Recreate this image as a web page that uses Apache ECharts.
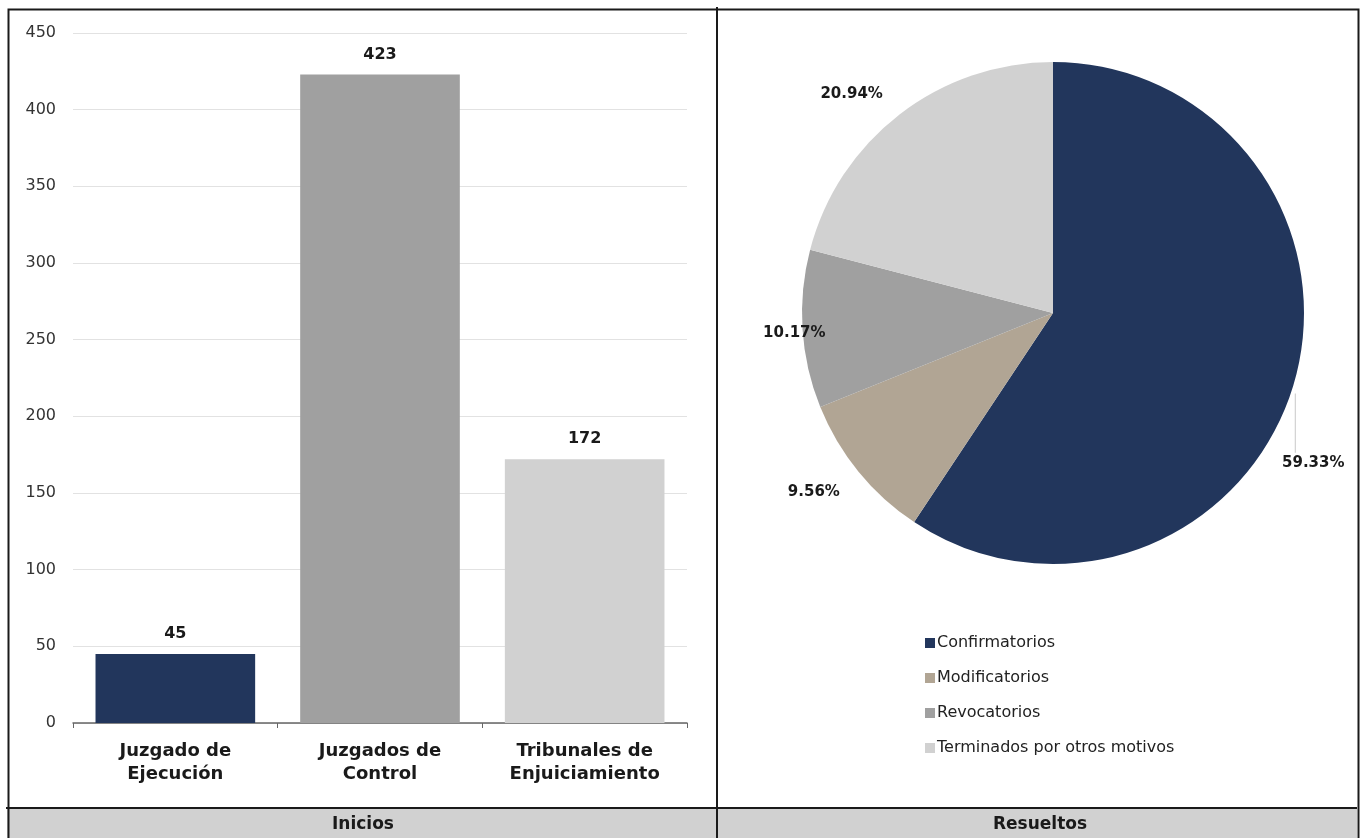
<!DOCTYPE html>
<html>
<head>
<meta charset="utf-8">
<script src="https://cdn.jsdelivr.net/npm/echarts@6/dist/echarts.min.js"></script>
<style>
  html, body { margin: 0; padding: 0; background: #fff; }
  #chart { width: 1363px; height: 838px; }
</style>
</head>
<body>
<div id="chart"></div>
<script>
// Inicios (bar chart)
const barCategories = ['Juzgado de\nEjecución', 'Juzgados de\nControl', 'Tribunales de\nEnjuiciamiento']
const barValues = [45, 423, 172]
const barColors = ['#22365c', '#a0a0a0', '#d1d1d1']

// Resueltos (pie chart)
const pieNames = ['Confirmatorios', 'Modificatorios', 'Revocatorios', 'Terminados por otros motivos']
const pieValues = [59.33, 9.56, 10.17, 20.94]
const pieColors = ['#22365c', '#b1a594', '#a0a0a0', '#d1d1d1']

const panelTitles = ['Inicios', 'Resueltos']

const font = 'DejaVu Sans, Verdana, sans-serif'
const textColor = '#1a1a1a'
const chart = echarts.init(document.getElementById('chart'))

// nudges of the pie labels from their default outside spot
const labelShift = [[-22, 76], [-9, 17], [34, 4], [-8, -16]]

const option = {
  animation: false,
  textStyle: { fontFamily: font },
  grid: { left: 73, right: 676, top: 33, bottom: 115 },
  xAxis: {
    type: 'category',
    data: barCategories,
    axisLine: { lineStyle: { color: '#666', width: 1.5 } },
    axisTick: { show: true, length: 5, lineStyle: { color: '#666' } },
    axisLabel: {
      margin: 17,
      fontSize: 18,
      fontWeight: 'bold',
      lineHeight: 23,
      color: textColor,
      fontFamily: font
    }
  },
  yAxis: {
    type: 'value',
    min: 0,
    max: 450,
    interval: 50,
    axisLine: { show: false },
    axisTick: { show: false },
    axisLabel: { margin: 17, fontSize: 16, color: '#333', fontFamily: font },
    splitLine: { lineStyle: { color: '#e2e2e2', width: 1 } }
  },
  legend: {
    orient: 'vertical',
    left: 920,
    top: 630,
    icon: 'rect',
    itemWidth: 10,
    itemHeight: 10,
    itemGap: 19,
    data: pieNames,
    textStyle: { fontSize: 16, color: '#222', fontFamily: font, padding: [0, 0, 0, -3] }
  },
  series: [
    {
      type: 'bar',
      barWidth: '78%',
      data: barValues.map((v, i) => ({ value: v, itemStyle: { color: barColors[i] } })),
      label: {
        show: true,
        position: 'top',
        distance: 12,
        fontSize: 16,
        fontWeight: 'bold',
        color: textColor,
        fontFamily: font
      }
    },
    {
      type: 'pie',
      center: [1053, 313],
      radius: 251,
      startAngle: 90,
      clockwise: true,
      data: pieNames.map((n, i) => ({
        name: n,
        value: pieValues[i],
        itemStyle: { color: pieColors[i] },
        labelLine: { show: i === 0 }
      })),
      label: {
        show: true,
        position: 'outside',
        overflow: 'none',
        formatter: p => p.value.toFixed(2) + '%',
        fontSize: 15,
        fontWeight: 'bold',
        color: textColor,
        fontFamily: font
      },
      labelLine: {
        length: 6,
        length2: 0,
        lineStyle: { color: '#c8c8c8', width: 1 }
      },
      labelLayout: function (p) {
        const s = labelShift[p.dataIndex]
        const out = { dx: s[0], dy: s[1] }
        if (p.dataIndex === 0 && p.labelLinePoints) {
          const start = p.labelLinePoints[0]
          const top = p.labelRect.y + s[1] - 3
          out.labelLinePoints = [[start[0] + 2, start[1] + 8], [start[0] + 2, top], [start[0] + 2, top]]
        }
        return out
      }
    }
  ],
  graphic: [
    // footer band
    { type: 'rect', left: 7, top: 808, shape: { width: 1350, height: 31 }, style: { fill: '#d1d1d1' }, silent: true },
    // outer frame
    { type: 'rect', left: 6, top: 7, shape: { width: 1350, height: 840 }, style: { fill: null, stroke: '#1a1a1a', lineWidth: 2 }, silent: true },
    // divider lines
    { type: 'line', shape: { x1: 717, y1: 7, x2: 717, y2: 838 }, style: { stroke: '#1a1a1a', lineWidth: 2 }, silent: true },
    { type: 'line', shape: { x1: 6, y1: 808, x2: 1357, y2: 808 }, style: { stroke: '#1a1a1a', lineWidth: 2 }, silent: true },
    {
      type: 'text', x: 363, y: 825,
      style: { text: panelTitles[0], textAlign: 'center', textVerticalAlign: 'middle', font: 'bold 17px ' + font, fill: textColor }
    },
    {
      type: 'text', x: 1040, y: 825,
      style: { text: panelTitles[1], textAlign: 'center', textVerticalAlign: 'middle', font: 'bold 17px ' + font, fill: textColor }
    }
  ]
}

chart.setOption(option)
</script>
</body>
</html>
